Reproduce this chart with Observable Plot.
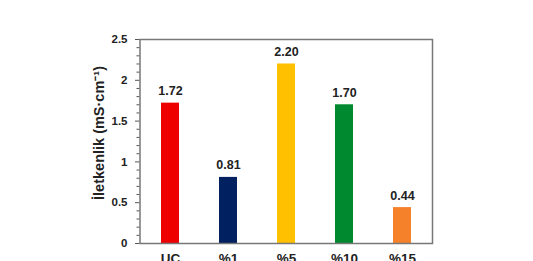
<!DOCTYPE html>
<html>
<head>
<meta charset="utf-8">
<script src="https://cdn.jsdelivr.net/npm/d3@7"></script>
<script src="https://cdn.jsdelivr.net/npm/@observablehq/plot@0.6"></script>
<style>
  html, body { margin: 0; padding: 0; background: #fff; }
</style>
</head>
<body>
<div id="chart"></div>
<script>
const categories = ["UC", "%1", "%5", "%10", "%15"];
const values = [1.72, 0.81, 2.20, 1.70, 0.44];
const colors = ["#ee0000", "#002060", "#ffc000", "#00892f", "#f5822a"];
const yTicks = [0, 0.5, 1, 1.5, 2, 2.5];
const yTickLabels = ["0", "0.5", "1", "1.5", "2", "2.5"];
const yMinorTicks = [0.1,0.2,0.3,0.4,0.6,0.7,0.8,0.9,1.1,1.2,1.3,1.4,1.6,1.7,1.8,1.9,2.1,2.2,2.3,2.4];
const yTitle = "İletkenlik (mS·cm⁻¹)";

const data = categories.map((c, i) => ({cat: c, value: values[i], color: colors[i]}));

const chart = Plot.plot({
  width: 533,
  height: 261,
  marginLeft: 139.5,
  marginRight: 101,
  marginTop: 39,
  marginBottom: 18,
  style: {fontFamily: "'Liberation Sans', Arial, sans-serif", background: "#fff", color: "#222"},
  x: {domain: categories, paddingInner: 0.69, paddingOuter: 0.345, align: 0.5},
  y: {domain: [0, 2.5]},
  marks: [
    Plot.barY(data, {x: "cat", y: "value", fill: "color"}),
    Plot.text(data, {x: "cat", y: "value", text: d => d3.format(".2f")(d.value), dy: -12, fontWeight: "bold", fontSize: 12.5, fill: "#222"}),
    Plot.axisY({ticks: yMinorTicks, tickSize: 3, text: null, label: null, stroke: "#555"}),
    Plot.axisY({ticks: yTicks, tickFormat: (d) => yTickLabels[yTicks.indexOf(d)], tickSize: 4.5, tickPadding: 8, fontSize: 11.5, fontWeight: "bold", stroke: "#555", fill: "#222", label: null}),
    Plot.text([yTitle], {frameAnchor: "left", textAnchor: "middle", lineAnchor: "middle", dx: -40.5, dy: -8.5, rotate: -90, fontSize: 14.5, fontWeight: "bold", fill: "#222"}),
    Plot.axisX({tickSize: 0, tickPadding: 10, fontSize: 13.5, fontWeight: "bold", label: null, fill: "#222"}),
    Plot.frame({stroke: "#777", strokeWidth: 1.5})
  ]
});
document.getElementById("chart").appendChild(chart);
</script>
</body>
</html>
